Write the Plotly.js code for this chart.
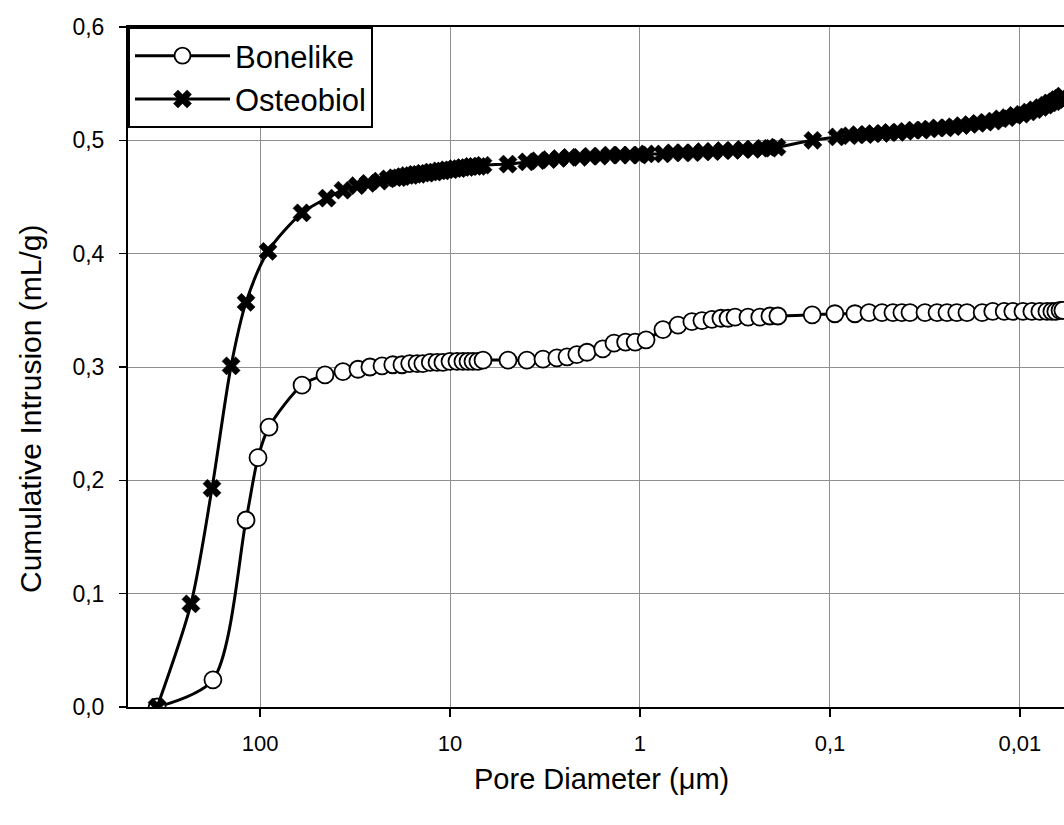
<!DOCTYPE html>
<html>
<head>
<meta charset="utf-8">
<script src="https://cdn.plot.ly/plotly-3.0.1.min.js"></script>
<style>
html,body{margin:0;padding:0;background:#fff;}
#chart{width:1064px;height:825px;}
</style>
</head>
<body>
<div id="chart"></div>
<script>
// Pore diameter (µm) and cumulative intrusion (mL/g)
const boneDiam = [348,177,118.5,102.5,89.7,60.1,45.5,36.6,30.5,26.4,22.8,
  20.0,17.9,16.3,14.9,13.9,12.7,11.7,10.9,10.0,9.19,8.55,8.04,7.57,7.13,6.70,
  4.95,3.94,3.24,2.74,2.42,2.15,1.90,1.57,1.37,1.19,1.06,0.929,
  0.757,0.631,0.533,0.472,0.418,0.375,0.344,0.316,0.270,0.234,0.207,0.188,
  0.124,0.0942,0.0739,0.0623,0.0532,0.0466,0.0418,0.0379,0.0316,0.0273,0.0242,
  0.0215,0.0190,0.0158,0.0139,0.0121,0.0109,0.00964,0.00865,0.00785,0.00721,
  0.00679,0.00647,0.00615,0.00594];
const boneVol = [0.000,0.024,0.165,0.220,0.247,0.284,0.293,0.296,0.298,0.300,0.301,
  0.302,0.302,0.303,0.303,0.303,0.304,0.304,0.304,0.305,0.305,0.305,0.305,0.305,0.305,0.306,
  0.306,0.306,0.307,0.308,0.309,0.311,0.313,0.316,0.321,0.322,0.322,0.324,
  0.333,0.337,0.340,0.341,0.342,0.343,0.343,0.344,0.344,0.344,0.345,0.345,
  0.346,0.347,0.347,0.348,0.348,0.348,0.348,0.348,0.348,0.348,0.348,
  0.348,0.348,0.348,0.349,0.349,0.349,0.349,0.349,0.349,0.349,
  0.349,0.349,0.350,0.350];

const osteoDiam = [348,231,179,142,118.5,90.8,60.1,44.4,36.6,30.8,27.0,23.4,21.2,
  19.5,18.5,17.7,16.8,16.0,15.3,14.6,13.9,13.2,12.6,12.0,11.4,10.9,10.4,9.88,9.42,
  8.97,8.55,8.14,7.75,7.39,7.04,6.70,4.95,3.94,
  3.44,3.01,2.67,2.36,2.07,1.83,1.62,1.44,1.27,1.13,1.00,0.92,
  0.757,0.670,0.594,0.526,0.466,0.413,0.366,0.324,0.287,0.254,0.225,0.207,0.190,
  0.123,0.0918,0.0785,0.0713,0.0647,0.0587,0.0532,0.0483,0.0439,0.0398,0.0361,
  0.0328,0.0298,0.0270,0.0245,0.0223,0.0202,0.0183,0.0166,0.0151,
  0.0137,0.0126,0.0116,0.0106,0.00976,0.00897,0.00834,0.00775,0.00729,0.00695,
  0.00662,0.00638,0.00615,0.00594];
const osteoVol = [0.000,0.091,0.193,0.301,0.357,0.402,0.436,0.449,0.456,0.460,0.462,0.464,0.466,
  0.467,0.467,0.468,0.469,0.469,0.470,0.470,0.471,0.471,0.472,0.472,0.473,0.473,0.474,0.474,0.475,
  0.475,0.476,0.476,0.477,0.477,0.477,0.478,0.479,0.481,
  0.482,0.483,0.484,0.485,0.485,0.486,0.486,0.487,0.487,0.487,0.487,0.488,
  0.488,0.489,0.489,0.489,0.490,0.490,0.491,0.491,0.492,0.492,0.493,0.493,0.494,
  0.500,0.503,0.504,0.505,0.505,0.506,0.506,0.507,0.507,0.508,0.509,
  0.509,0.510,0.511,0.511,0.512,0.513,0.514,0.515,0.516,
  0.517,0.519,0.520,0.522,0.523,0.525,0.527,0.529,0.531,0.533,
  0.534,0.536,0.537,0.539];

const xTickVals = [100,10,1,0.1,0.01];
const xTickText = ['100','10','1','0,1','0,01'];
const seriesNames = ['Bonelike','Osteobiol'];
const xTitle = 'Pore Diameter (\u03bcm)';
const yTitle = 'Cumulative Intrusion (mL/g)';

const FONT = 'Liberation Sans, Arial, Helvetica, sans-serif';

const traces = [
  {
    x: boneDiam, y: boneVol, name: seriesNames[0], type: 'scatter', mode: 'lines+markers',
    line: {color: '#000', width: 3, shape: 'spline', smoothing: 0.8},
    marker: {symbol: 'circle', size: 17, color: '#fff', line: {color: '#000', width: 1.8}}
  },
  {
    x: osteoDiam, y: osteoVol, name: seriesNames[1], type: 'scatter', mode: 'lines+markers',
    line: {color: '#000', width: 3, shape: 'spline', smoothing: 0.8},
    marker: {symbol: 'x', size: 16, color: '#000', line: {color: '#000', width: 0.5}}
  }
];

const layout = {
  width: 1064, height: 825,
  margin: {l: 128, r: 0, t: 27, b: 118, pad: 0},
  paper_bgcolor: '#fff', plot_bgcolor: '#fff',
  separators: ', ',
  font: {family: FONT, color: '#000', size: 22},
  showlegend: true,
  legend: {
    x: 0, y: 1, xanchor: 'left', yanchor: 'top',
    bgcolor: '#fff', bordercolor: '#000', borderwidth: 2,
    font: {family: FONT, size: 31, color: '#000'},
    itemwidth: 95, tracegroupgap: 0
  },
  xaxis: {
    type: 'log', range: [2.695, -2.232],
    tickvals: xTickVals, ticktext: xTickText,
    ticks: 'outside', ticklen: 8, tickwidth: 1.5, tickcolor: '#000',
    ticklabelstandoff: 8,
    showline: true, linecolor: '#000', linewidth: 2, mirror: true,
    showgrid: true, gridcolor: '#8f8f8f', gridwidth: 1,
    zeroline: false,
    tickfont: {family: FONT, size: 22, color: '#000'}
  },
  yaxis: {
    range: [0, 0.6], dtick: 0.1, tick0: 0, tickformat: '.1f',
    ticks: 'outside', ticklen: 7, tickwidth: 1.5, tickcolor: '#000',
    ticklabelstandoff: 10,
    showline: true, linecolor: '#000', linewidth: 2,
    showgrid: true, gridcolor: '#8f8f8f', gridwidth: 1,
    zeroline: false,
    tickfont: {family: FONT, size: 23, color: '#000'}
  },
  annotations: [
    {
      text: yTitle, xref: 'paper', yref: 'paper',
      x: -98 / 936, y: 298 / 680, xanchor: 'center', yanchor: 'middle',
      textangle: -90, showarrow: false,
      font: {family: FONT, size: 30, color: '#000'}
    },
    {
      text: xTitle, xref: 'paper', yref: 'paper',
      x: 473 / 936, y: -72 / 680, xanchor: 'center', yanchor: 'middle',
      showarrow: false,
      font: {family: FONT, size: 29, color: '#000'}
    }
  ]
};

Plotly.newPlot('chart', traces, layout, {displayModeBar: false, staticPlot: true});
</script>
</body>
</html>
